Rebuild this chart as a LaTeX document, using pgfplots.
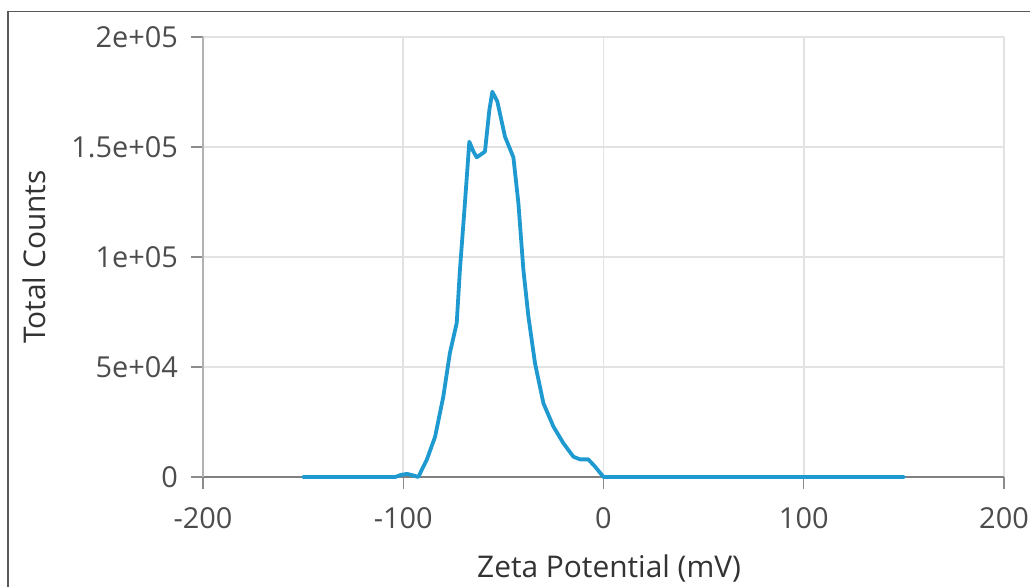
\documentclass[border=0pt]{standalone}
\usepackage{fontspec}
\setmainfont{Open Sans}
\usepackage{pgfplots}
\pgfplotsset{compat=1.18}
\definecolor{zetablue}{RGB}{30,154,208}
\definecolor{gridgray}{RGB}{226,226,226}

\begin{document}
\begin{tikzpicture}[x=0.5bp,y=0.5bp]
  % picture frame, 1 unit = 1 px of the reference
  \path[use as bounding box] (0,0) rectangle (1030,587);
  \draw[black!65, line width=0.6bp] (8,0) -- (8,575.5) -- (1030,575.5);
  \coordinate (org) at (203,110);

  \begin{axis}[
      at={(org)}, anchor=south west,
      scale only axis,
      width=400.5bp, height=220bp,
      xmin=-200, xmax=200, ymin=0, ymax=200000,
      axis x line*=bottom, axis y line*=left,
      x axis line style={draw=black!50, line width=0.9bp, -},
      y axis line style={draw=black!30, line width=1.4bp, -},
      xtick={-200,-100,0,100,200},
      xticklabels={-200,-100,0,100,200},
      ytick={0,50000,100000,150000,200000},
      yticklabels={0,5e+04,1e+05,1.5e+05,2e+05},
      scaled y ticks=false,
      tick align=outside,
      major tick length=6bp,
      tick style={draw=black!45, line width=0.7bp},
      grid=major,
      major grid style={draw=gridgray, line width=0.8bp},
      ticklabel style={font=\fontsize{14.5}{16}\selectfont, text=black!70},
      xticklabel style={yshift=-6bp},
      yticklabel style={xshift=-3bp},
      label style={font=\fontsize{15}{17}\selectfont, text=black!80},
      xlabel={Zeta Potential (mV)},
      ylabel={Total Counts},
      xlabel style={at={(axis description cs:0.507,-0.2295)}, anchor=base},
      ylabel style={at={(axis description cs:-0.197,0.5)}, rotate=0, anchor=base},
      clip=false,
    ]
    \addplot[zetablue, line width=1.9bp, line join=round, line cap=round] coordinates {
      (-150,0) (-104,0) (-101,1000) (-98,1400) (-95,700) (-92.5,0)
      (-88.3,7700) (-84.1,18300) (-80,36500) (-76.7,56400) (-73.3,70000)
      (-71.7,94100) (-69.2,124500) (-67,152400) (-65,148000) (-63.3,145300)
      (-59.2,147900) (-57,166800) (-55.5,175100) (-53,170600) (-49.2,154700)
      (-45,145300) (-42.5,124500) (-40,94100) (-37.5,72900) (-34.2,51700)
      (-30,33500) (-25,22900) (-20,15300) (-15,9200) (-11.7,8000)
      (-7.6,8000) (-4.2,4700) (0,0) (150,0)
    };
  \end{axis}
\end{tikzpicture}
\end{document}
